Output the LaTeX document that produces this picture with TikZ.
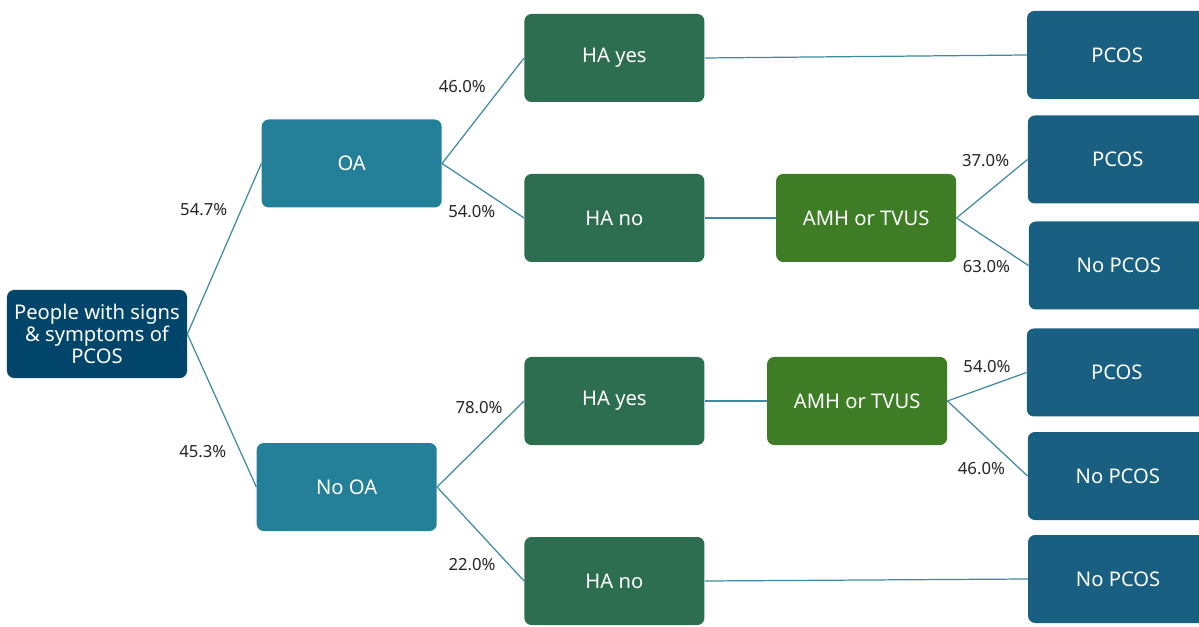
\documentclass[tikz,border=0pt]{standalone}
\usepackage{fontspec}
\setmainfont{Noto Sans}
\usetikzlibrary{positioning}
\definecolor{rootblue}{RGB}{2, 69, 107}
\definecolor{oateal}{RGB}{35, 128, 152}
\definecolor{hagreen}{RGB}{46, 110, 80}
\definecolor{amhgreen}{RGB}{62, 125, 38}
\definecolor{pcosblue}{RGB}{24, 95, 130}
\definecolor{linkteal}{RGB}{62, 138, 160}
\definecolor{pcttext}{RGB}{38, 38, 38}

\begin{document}
\begin{tikzpicture}[
  box/.style = {
    draw=none, rounded corners=4pt, text=white,
    minimum width=3.6cm, minimum height=1.76cm,
    align=center, font=\fontsize{11.5}{12.5}\selectfont
  },
  root/.style = { box, fill=rootblue },
  oa/.style = { box, fill=oateal },
  ha/.style = { box, fill=hagreen },
  amh/.style = { box, fill=amhgreen },
  result/.style = { box, fill=pcosblue },
  lbl/.style = { font=\fontsize{9.5}{10}\selectfont, text=pcttext, inner sep=2pt },
  link/.style = { draw=linkteal, line width=0.7pt }
]
\useasboundingbox (0,0) rectangle (23.98,12.52);

\node[root] (people) at (1.94,5.84) {People with signs\\\& symptoms of\\PCOS};
\node[oa, right=1.48cm of people, yshift=3.41cm]  (oa) {OA};
\node[oa, right=1.38cm of people, yshift=-3.06cm] (nooa) {No OA};

\node[ha, right=1.64cm of oa, yshift=2.11cm]    (hayesA) {HA yes};
\node[ha, right=1.64cm of oa, yshift=-1.09cm]   (hanoA) {HA no};
\node[ha, right=1.74cm of nooa, yshift=1.72cm]  (hayesB) {HA yes};
\node[ha, right=1.74cm of nooa, yshift=-1.88cm] (hanoB) {HA no};

\node[amh, right=1.42cm of hanoA]  (amhA) {AMH or TVUS};
\node[amh, right=1.24cm of hayesB] (amhB) {AMH or TVUS};

\node[result, right=6.44cm of hayesA, yshift=0.06cm] (pcosA) {PCOS};
\node[result, right=1.42cm of amhA, yshift=1.17cm]   (pcosB) {PCOS};
\node[result, right=1.44cm of amhA, yshift=-0.95cm]  (nopcosA) {No PCOS};
\node[result, right=1.58cm of amhB, yshift=0.57cm]   (pcosC) {PCOS};
\node[result, right=1.60cm of amhB, yshift=-1.50cm]  (nopcosB) {No PCOS};
\node[result, right=6.46cm of hanoB, yshift=0.04cm]  (nopcosC) {No PCOS};

\draw[link] (people.east) -- node[lbl, pos=0.73, left, xshift=-0.2cm]{54.7\%} (oa.west);
\draw[link] (people.east) -- node[lbl, pos=0.77, left, xshift=-0.2cm]{45.3\%} (nooa.west);
\draw[link] (oa.east) -- node[lbl, pos=0.73, left, xshift=-0.24cm]{46.0\%} (hayesA.west);
\draw[link] (oa.east) -- node[lbl, pos=0.7, below left]{54.0\%} (hanoA.west);
\draw[link] (nooa.east) -- node[lbl, pos=0.8, above left]{78.0\%} (hayesB.west);
\draw[link] (nooa.east) -- node[lbl, pos=0.72, below left]{22.0\%} (hanoB.west);
\draw[link] (hayesA.east) -- (pcosA.west);
\draw[link] (hanoA.east) -- (amhA.west);
\draw[link] (hayesB.east) -- (amhB.west);
\draw[link] (hanoB.east) -- (nopcosC.west);
\draw[link] (amhA.east) -- node[lbl, pos=0.8, above left]{37.0\%} (pcosB.west);
\draw[link] (amhA.east) -- node[lbl, pos=0.8, below left]{63.0\%} (nopcosA.west);
\draw[link] (amhB.east) -- node[lbl, pos=0.85, above left]{54.0\%} (pcosC.west);
\draw[link] (amhB.east) -- node[lbl, pos=0.77, below left]{46.0\%} (nopcosB.west);

\end{tikzpicture}
\end{document}
